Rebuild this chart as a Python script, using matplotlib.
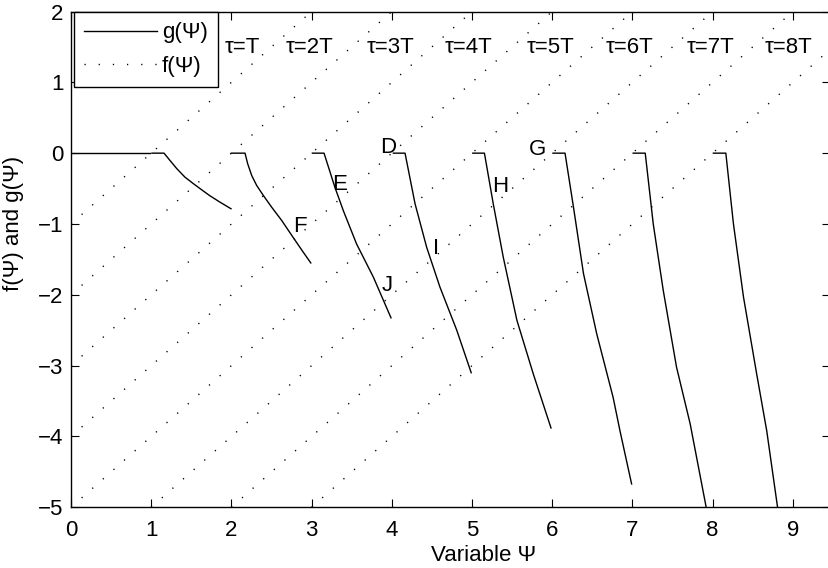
import matplotlib
matplotlib.use('Agg')
import matplotlib.pyplot as plt

plt.rcParams['font.family'] = ['Liberation Sans', 'DejaVu Sans']
FS = 16

# ---- data ----
# g(Psi) pieces (x, y)
g0_x = [0.0, 0.985]
g0_y = [0.0, 0.0]
g1_x = [1.01, 1.16, 1.234, 1.32, 1.421, 1.525, 1.629, 1.73, 1.858, 1.995]
g1_y = [0.0, 0.0, -0.103, -0.22, -0.339, -0.43, -0.517, -0.60, -0.692, -0.785]
g2_x = [2.0, 2.17, 2.203, 2.253, 2.315, 2.40, 2.502, 2.627, 2.77, 2.897, 2.99]
g2_y = [0.0, 0.0, -0.15, -0.315, -0.456, -0.60, -0.763, -0.95, -1.19, -1.40, -1.55]
g3_x = [3.01, 3.155, 3.29, 3.395, 3.56, 3.77, 3.99]
g3_y = [0.0, 0.0, -0.48, -0.81, -1.28, -1.75, -2.325]
g4_x = [4.02, 4.165, 4.29, 4.435, 4.60, 4.81, 4.99]
g4_y = [0.0, 0.0, -0.715, -1.33, -1.89, -2.50, -3.10]
g5_x = [5.01, 5.155, 5.265, 5.39, 5.56, 5.765, 5.985]
g5_y = [0.0, 0.0, -0.715, -1.47, -2.36, -3.12, -3.88]
g6_x = [6.01, 6.16, 6.265, 6.39, 6.555, 6.76, 6.845, 6.99]
g6_y = [0.0, 0.0, -0.76, -1.70, -2.55, -3.45, -3.92, -4.67]
g7_x = [7.01, 7.16, 7.26, 7.385, 7.55, 7.72, 7.92]
g7_y = [0.0, 0.0, -1.0, -1.94, -3.02, -3.82, -5.0]
g8_x = [8.01, 8.165, 8.26, 8.385, 8.55, 8.675, 8.81]
g8_y = [0.0, 0.0, -1.0, -2.03, -3.12, -3.92, -5.0]
g_pieces = [(g0_x, g0_y), (g1_x, g1_y), (g2_x, g2_y), (g3_x, g3_y), (g4_x, g4_y),
            (g5_x, g5_y), (g6_x, g6_y), (g7_x, g7_y), (g8_x, g8_y)]

# f(Psi) straight lines: start and end points
f_x0 = [0, 0, 0, 0, 0, 1, 2, 3]
f_y0 = [-1, -2, -3, -4, -5, -5, -5, -5]
f_x1 = [3, 4, 5, 6, 7, 8, 9, 10]
f_y1 = [2, 2, 2, 2, 2, 2, 2, 2]

# tau labels
tau_labels = ['τ=T', 'τ=2T', 'τ=3T', 'τ=4T', 'τ=5T', 'τ=6T', 'τ=7T', 'τ=8T']
tau_x = [1.92, 2.67, 3.68, 4.66, 5.68, 6.66, 7.68, 8.65]
tau_y = 1.42

# point letters
pt_labels = ['D', 'E', 'F', 'G', 'H', 'I', 'J']
pt_x = [3.855, 3.26, 2.765, 5.71, 5.25, 4.51, 3.875]
pt_y = [0.0, -0.517, -1.116, -0.032, -0.55, -1.43, -1.94]

xticks = list(range(0, 10))
yticks = list(range(-5, 3))

# ---- figure ----
fig = plt.figure(figsize=(8.29, 5.68), dpi=100)
ax = fig.add_axes([71 / 829, (568 - 507.3) / 568, (830 - 71) / 829, (507.3 - 11.5) / 568])

for i in range(len(f_x0)):
    ax.plot([f_x0[i], f_x1[i]], [f_y0[i], f_y1[i]], color='black', lw=1.0,
            linestyle=(0, (0.9, 9.3)), label='f(Ψ)' if i == 0 else None)

for j, (xs, ys) in enumerate(g_pieces):
    ax.plot(xs, ys, color='black', lw=1.0, solid_joinstyle='round',
            label='g(Ψ)' if j == 0 else None)

for s, x in zip(tau_labels, tau_x):
    ax.text(x, tau_y, s, fontsize=FS, ha='left', va='baseline')
for s, x, y in zip(pt_labels, pt_x, pt_y):
    ax.text(x, y, s, fontsize=FS, ha='left', va='baseline')

ax.set_xlim(0, 759 / 80.2)
ax.set_ylim(-5, 2)
ax.set_xticks(xticks)
ax.set_yticks(yticks)
ax.tick_params(direction='in', length=5.8, width=0.8, top=True, right=True,
               labelsize=FS, colors='black')
ax.tick_params(axis='x', pad=9.4)
ax.tick_params(axis='y', pad=5.4)
for sp in ax.spines.values():
    sp.set_linewidth(1.0)
    sp.set_color('black')

ax.set_xlabel('Variable Ψ', fontsize=FS, va='baseline')
ax.xaxis.set_label_coords((484 - 71) / 759, (507.3 - 561) / 495.8)
ax.set_ylabel('f(Ψ) and g(Ψ)', fontsize=FS, va='center', ha='center')
ax.yaxis.set_label_coords((13.5 - 71) / 759, (507.3 - 223) / 495.8)

handles, labels = ax.get_legend_handles_labels()
order = [labels.index('g(Ψ)'), labels.index('f(Ψ)')]
leg = ax.legend([handles[k] for k in order], [labels[k] for k in order],
                loc='upper left', bbox_to_anchor=(0.004, 0.998), borderaxespad=0,
                fontsize=FS, frameon=True, fancybox=False, framealpha=1,
                edgecolor='black', handlelength=3.3, handletextpad=0.2,
                borderpad=0.45, labelspacing=0.55)
leg.get_frame().set_linewidth(1.0)

fig.savefig('out.png', dpi=100)
